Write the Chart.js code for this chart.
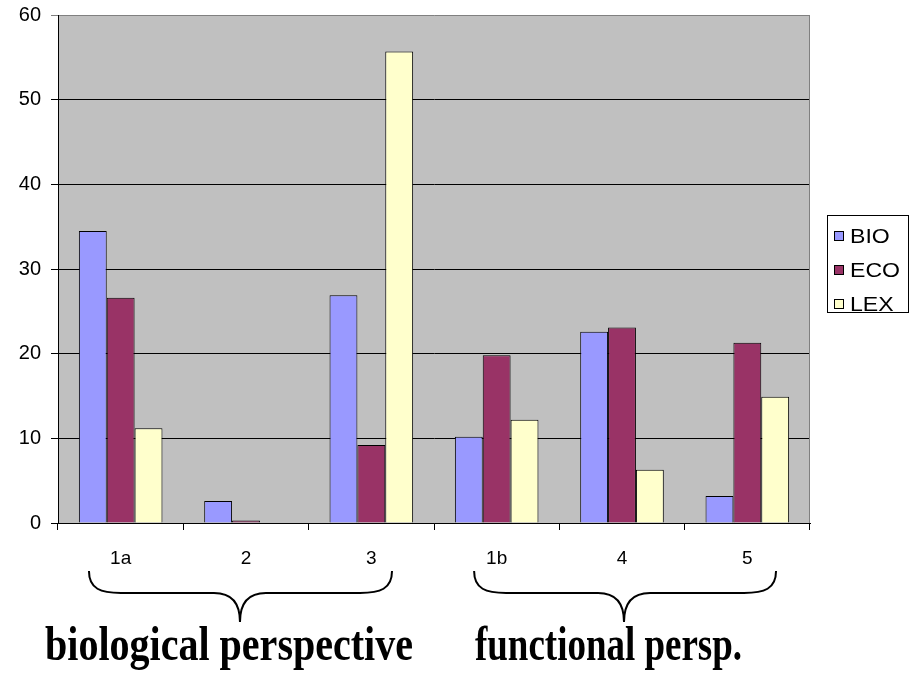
<!DOCTYPE html>
<html>
<head>
<meta charset="utf-8">
<script src="https://cdn.jsdelivr.net/npm/chart.js@4/dist/chart.umd.min.js"></script>
<style>
  html, body { margin: 0; padding: 0; background: #fff; }
  #wrap { width: 913px; height: 673px; position: relative; }
</style>
</head>
<body>
<div id="wrap"><canvas id="c" width="913" height="673"></canvas></div>
<script>
// Categories and series values
const categories = ['1a', '2', '3', '1b', '4', '5'];
const seriesNames = ['BIO', 'ECO', 'LEX'];
const bioValues = [34.5, 2.6, 26.9, 10.2, 22.6, 3.2];
const ecoValues = [26.6, 0.3, 9.2, 19.8, 23.1, 21.3];
const lexValues = [11.2, 0, 55.7, 12.2, 6.3, 14.9];
const yTicks = [0, 10, 20, 30, 40, 50, 60];

// Category groups shown with braces beneath the axis
const groupLabels = ['biological perspective', 'functional persp.'];

const colors = ['#9999ff', '#993366', '#ffffcc'];

// Plot background, plot border, legend, braces and group captions
const decor = {
  id: 'decor',
  beforeDraw(chart) {
    const { ctx, chartArea: a } = chart;
    ctx.save();
    ctx.fillStyle = '#c0c0c0';
    ctx.fillRect(a.left, a.top, a.right - a.left, a.bottom - a.top);
    ctx.restore();
  },
  afterDatasetsDraw(chart) {
    const { ctx, chartArea: a } = chart;
    ctx.save();
    ctx.strokeStyle = '#808080';
    ctx.lineWidth = 1;
    ctx.beginPath();
    ctx.moveTo(Math.round(a.right) - 0.5, a.top);
    ctx.lineTo(Math.round(a.right) - 0.5, a.bottom);
    ctx.stroke();
    ctx.restore();
  },
  afterDraw(chart) {
    const { ctx } = chart;
    const x = chart.scales.x;

    // legend
    ctx.save();
    ctx.fillStyle = '#fff';
    ctx.fillRect(827, 215, 82, 98);
    ctx.strokeStyle = '#000';
    ctx.lineWidth = 1;
    ctx.strokeRect(827.5, 215.5, 81, 97);
    chart.data.datasets.forEach((ds, i) => {
      const cy = 236 + 34 * i;
      ctx.fillStyle = ds.backgroundColor;
      ctx.fillRect(834, cy - 5, 10, 10);
      ctx.strokeStyle = '#000';
      ctx.strokeRect(834.5, cy - 4.5, 9, 9);
      ctx.save();
      ctx.translate(850, cy);
      ctx.scale(1.1, 1);
      ctx.fillStyle = '#000';
      ctx.font = '21px "Liberation Sans", Arial, sans-serif';
      ctx.textBaseline = 'middle';
      ctx.textAlign = 'left';
      ctx.fillText(ds.label, 0, 1);
      ctx.restore();
    });
    ctx.restore();

    // braces under the category labels
    const braces = [
      { from: -0.253, mid: 0.952, to: 2.165 },
      { from: 2.82, mid: 4.016, to: 5.229 }
    ];
    const top = 571, flat = 593, tip = 622;
    ctx.save();
    ctx.strokeStyle = '#000';
    ctx.lineWidth = 2;
    braces.forEach(b => {
      const L = x.getPixelForValue(b.from);
      const M = x.getPixelForValue(b.mid);
      const R = x.getPixelForValue(b.to);
      ctx.beginPath();
      ctx.moveTo(L, top);
      ctx.bezierCurveTo(L, flat - 4, L + 12, flat, L + 32, flat);
      ctx.lineTo(M - 26, flat);
      ctx.bezierCurveTo(M - 8, flat, M, flat + 10, M, tip);
      ctx.bezierCurveTo(M, flat + 10, M + 8, flat, M + 26, flat);
      ctx.lineTo(R - 32, flat);
      ctx.bezierCurveTo(R - 12, flat, R, flat - 4, R, top);
      ctx.stroke();
    });
    ctx.restore();

    // group captions
    const captions = [
      { text: groupLabels[0], left: 45, width: 368 },
      { text: groupLabels[1], left: 475, width: 267 }
    ];
    ctx.save();
    ctx.fillStyle = '#000';
    ctx.font = 'bold 48px "Liberation Serif", "Times New Roman", serif';
    ctx.textBaseline = 'alphabetic';
    ctx.textAlign = 'left';
    captions.forEach(c => {
      const w = ctx.measureText(c.text).width;
      ctx.save();
      ctx.translate(c.left, 660);
      ctx.scale(c.width / w, 1);
      ctx.fillText(c.text, 0, 0);
      ctx.restore();
    });
    ctx.restore();
  }
};

new Chart(document.getElementById('c'), {
  type: 'bar',
  data: {
    labels: categories,
    datasets: [
      { label: seriesNames[0], data: bioValues, backgroundColor: colors[0] },
      { label: seriesNames[1], data: ecoValues, backgroundColor: colors[1] },
      { label: seriesNames[2], data: lexValues, backgroundColor: colors[2] }
    ].map(d => Object.assign(d, {
      borderColor: '#000',
      borderWidth: 1,
      borderSkipped: 'bottom',
      categoryPercentage: 0.667,
      barPercentage: 1.0
    }))
  },
  options: {
    responsive: false,
    animation: false,
    events: [],
    layout: { padding: { top: 15, right: 103, left: 0, bottom: 0 } },
    plugins: {
      legend: { display: false },
      tooltip: { enabled: false },
      title: { display: false }
    },
    scales: {
      x: {
        offset: true,
        grid: {
          offset: true,
          drawOnChartArea: false,
          drawTicks: true,
          tickLength: 7,
          color: '#000',
          lineWidth: 1
        },
        border: { color: '#000', width: 1 },
        ticks: {
          color: '#000',
          font: { family: '"Liberation Sans", Arial, sans-serif', size: 19 },
          padding: 17,
          maxRotation: 0
        },
        afterFit(scale) {
          scale.height = 150;
          scale.paddingLeft = 0;
          scale.paddingRight = 0;
        }
      },
      y: {
        min: 0,
        max: 60,
        afterBuildTicks(scale) { scale.ticks = yTicks.map(v => ({ value: v })); },
        grid: {
          drawTicks: true,
          tickLength: 7,
          color: ctx => (ctx.tick && ctx.tick.value === 60 ? '#808080' : '#000'),
          lineWidth: 1
        },
        border: { color: '#000', width: 1 },
        ticks: {
          color: '#000',
          font: { family: '"Liberation Sans", Arial, sans-serif', size: 20 },
          padding: 10
        },
        afterFit(scale) {
          scale.width = 58;
          scale.paddingTop = 0;
          scale.paddingBottom = 0;
        }
      }
    }
  },
  plugins: [decor]
});
</script>
</body>
</html>
